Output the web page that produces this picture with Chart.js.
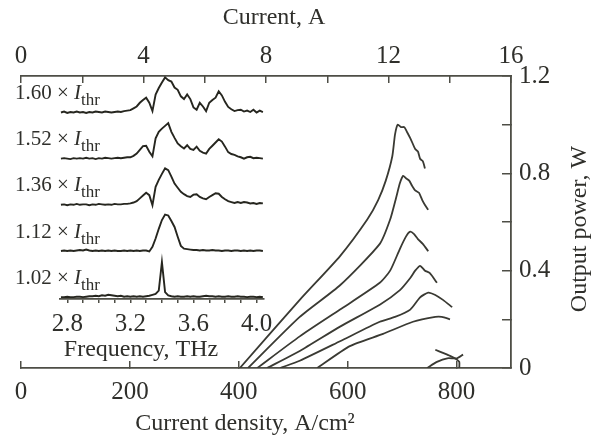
<!DOCTYPE html>
<html>
<head>
<meta charset="utf-8">
<script src="https://cdn.jsdelivr.net/npm/chart.js@4.4.1/dist/chart.umd.min.js"></script>
<style>
  body { margin: 0; background: #fff; }
  #wrap { position: relative; width: 595px; height: 441px; }
  #inset { position: absolute; left: 0; top: 0; }
</style>
</head>
<body>
<div id="wrap">
  <canvas id="main" width="595" height="441"></canvas>
  <canvas id="inset" width="300" height="441"></canvas>
</div>
<script>
// --- LI curves: current density (A/cm2) vs output power (W) ---
const curve1J = [402, 512, 586, 636, 656, 670, 682, 687, 692, 698, 704, 709, 716, 724, 729, 733, 738, 742];
const curve1P = [0, 0.28, 0.46, 0.61, 0.69, 0.77, 0.87, 0.96, 1.00, 0.99, 0.99, 0.97, 0.94, 0.90, 0.89, 0.86, 0.85, 0.82];
const curve2J = [417, 512, 586, 659, 678, 689, 696, 702, 707, 713, 718, 724, 731, 737, 742, 748];
const curve2P = [0, 0.21, 0.34, 0.51, 0.61, 0.70, 0.76, 0.79, 0.78, 0.77, 0.75, 0.73, 0.72, 0.69, 0.67, 0.65];
const curve3J = [434, 512, 586, 659, 678, 696, 707, 715, 722, 729, 738, 748];
const curve3P = [0, 0.13, 0.24, 0.35, 0.40, 0.49, 0.54, 0.56, 0.55, 0.53, 0.51, 0.48];
const curve4J = [452, 512, 586, 659, 696, 715, 724, 733, 742, 751, 764];
const curve4P = [0, 0.07, 0.17, 0.26, 0.32, 0.37, 0.40, 0.42, 0.40, 0.39, 0.35];
const curve5J = [476, 512, 586, 659, 687, 715, 733, 748, 761, 775, 792];
const curve5P = [0, 0.03, 0.11, 0.19, 0.21, 0.24, 0.29, 0.31, 0.30, 0.28, 0.25];
const curve6J = [544, 604, 665, 720, 761, 773, 788];
const curve6P = [0, 0.09, 0.14, 0.19, 0.21, 0.21, 0.20];
// little loop near the axis at ~780 A/cm2
const loopAJ = [746, 764, 783, 801, 812];
const loopAP = [0, 0.025, 0.04, 0.04, 0.055];
const loopBJ = [761, 775, 788, 799, 805, 805];
const loopBP = [0.075, 0.062, 0.05, 0.037, 0.025, 0];

// --- inset spectra (THz, arbitrary units) ---
const freqTHz = [2.76, 2.78, 2.80, 2.82, 2.84, 2.86, 2.88, 2.90, 2.92, 2.94, 2.96, 2.98, 3.00, 3.02, 3.04, 3.06, 3.08, 3.10, 3.12, 3.14, 3.16, 3.18,
  3.20, 3.22, 3.24, 3.26, 3.28, 3.30, 3.32, 3.34, 3.36, 3.38, 3.40, 3.42, 3.44, 3.46, 3.48, 3.50, 3.52, 3.54, 3.56, 3.58, 3.60, 3.62,
  3.64, 3.66, 3.68, 3.70, 3.72, 3.74, 3.76, 3.78, 3.80, 3.82, 3.84, 3.86, 3.88, 3.90, 3.92, 3.94, 3.96, 3.98, 4.00, 4.02, 4.04];
const spec102 = [0.01, 0.01, 0.02, 0.01, 0.01, 0.02, 0.02, 0.01, 0.02, 0.03, 0.03, 0.04, 0.03, 0.05, 0.04, 0.06, 0.05, 0.04, 0.03, 0.04, 0.02, 0.03,
  0.02, 0.03, 0.02, 0.03, 0.02, 0.03, 0.04, 0.06, 0.08, 0.15, 0.77, 0.12, 0.05, 0.03,
  0.02, 0.03, 0.02, 0.02, 0.03, 0.02, 0.03, 0.02, 0.02, 0.03, 0.04, 0.03, 0.03, 0.02, 0.03, 0.02, 0.02, 0.03, 0.02, 0.02, 0.03, 0.02, 0.02, 0.01, 0.02, 0.02, 0.01, 0.02, 0.01];
const spec112 = [0.01, 0.02, 0.01, 0.02, 0.01, 0.02, 0.03, 0.02, 0.04, 0.02, 0.01, 0.02, 0.01, 0.02, 0.01, 0.02, 0.01, 0.02, 0.01, 0.01, 0.02, 0.01, 0.02, 0.01, 0.02, 0.01, 0.02, 0.02,
  0.00, 0.10, 0.28, 0.49, 0.68, 0.80, 0.78, 0.66, 0.53, 0.32, 0.12, 0.06, 0.05, 0.04,
  0.03, 0.03, 0.02, 0.03, 0.02, 0.02, 0.03, 0.02, 0.02, 0.01, 0.02, 0.02, 0.01, 0.02, 0.02, 0.01, 0.02, 0.01, 0.02, 0.01, 0.02, 0.02, 0.01];
const spec136 = [0.01, 0.02, 0.00, 0.02, 0.01, 0.03, 0.01, 0.02, 0.02, 0.00, 0.02, 0.01, 0.03, 0.02, 0.01, 0.02, 0.01, 0.03, 0.02, 0.02, 0.03, 0.03,
  0.04, 0.06, 0.09, 0.15, 0.21, 0.27, 0.22, 0.00, 0.40, 0.55, 0.68, 0.80, 0.76, 0.62, 0.47, 0.38, 0.29, 0.24, 0.20, 0.18, 0.23, 0.24,
  0.18, 0.15, 0.13, 0.18, 0.22, 0.26, 0.25, 0.18, 0.13, 0.09, 0.07, 0.05, 0.07, 0.05, 0.07, 0.06, 0.04, 0.05, 0.03, 0.05, 0.04];
const spec152 = [0.01, 0.02, 0.01, 0.00, 0.02, 0.01, 0.02, 0.01, 0.03, 0.01, 0.02, 0.00, 0.02, 0.01, 0.03, 0.02, 0.01, 0.02, 0.03, 0.02, 0.03, 0.04,
  0.04, 0.07, 0.12, 0.20, 0.28, 0.29, 0.16, 0.06, 0.45, 0.59, 0.66, 0.72, 0.78, 0.59, 0.46, 0.34, 0.28, 0.23, 0.30, 0.22, 0.20, 0.27,
  0.18, 0.14, 0.12, 0.22, 0.29, 0.36, 0.43, 0.38, 0.27, 0.15, 0.11, 0.09, 0.06, 0.04, 0.01, 0.04, 0.05, 0.02, 0.03, 0.02, 0.01];
const spec160 = [0.01, 0.03, 0.00, 0.02, 0.01, 0.03, 0.01, 0.02, 0.00, 0.02, 0.01, 0.03, 0.02, 0.01, 0.03, 0.02, 0.01, 0.02, 0.03, 0.02, 0.04, 0.05,
  0.06, 0.10, 0.14, 0.22, 0.28, 0.33, 0.22, 0.04, 0.40, 0.54, 0.66, 0.77, 0.71, 0.68, 0.55, 0.50, 0.36, 0.30, 0.40, 0.30, 0.12, 0.07,
  0.22, 0.14, 0.04, 0.22, 0.28, 0.33, 0.47, 0.38, 0.24, 0.13, 0.08, 0.04, 0.06, 0.07, 0.03, 0.05, 0.02, 0.07, 0.01, 0.05, 0.02];
const thrFactors = ['1.02', '1.12', '1.36', '1.52', '1.60'];

const TEXT = '#2f2f2b';
const AXIS = '#4e4e46';
const LINE = '#3a3a33';
const SERIF = '"Liberation Serif", "Times New Roman", serif';

const pts = (xs, ys) => xs.map((x, i) => ({ x: x, y: ys[i] }));
const noPad = (h, w) => s => {
  if (h) s.height = h;
  if (w) s.width = w;
  s.paddingLeft = 0; s.paddingRight = 0; s.paddingTop = 0; s.paddingBottom = 0;
};

// titles drawn by hand (right one reads bottom-to-top)
const mainTitles = {
  id: 'mainTitles',
  afterDraw(chart) {
    const { ctx, chartArea: a } = chart;
    const mid = (a.left + a.right) / 2;
    ctx.save();
    ctx.fillStyle = TEXT;
    ctx.font = '24px ' + SERIF;
    ctx.textAlign = 'center';
    ctx.textBaseline = 'middle';
    ctx.fillText('Current, A', mid + 8, a.top - 58);
    ctx.fillText('Current density, A/cm²', mid - 21, a.bottom + 56);
    ctx.translate(a.right + 69, (a.top + a.bottom) / 2 + 7);
    ctx.rotate(-Math.PI / 2);
    ctx.fillText('Output power, W', 0, 0);
    ctx.restore();
  }
};

const lineSets = [
  [curve1J, curve1P], [curve2J, curve2P], [curve3J, curve3P], [curve4J, curve4P],
  [curve5J, curve5P], [curve6J, curve6P], [loopAJ, loopAP], [loopBJ, loopBP]
];

new Chart(document.getElementById('main'), {
  type: 'line',
  data: {
    datasets: lineSets.map(([j, p]) => ({
      data: pts(j, p), borderColor: LINE, borderWidth: 1.8, pointRadius: 0, tension: 0.2, fill: false
    }))
  },
  options: {
    responsive: false, animation: false,
    layout: { padding: { left: 21 } },
    plugins: { legend: { display: false }, tooltip: { enabled: false } },
    scales: {
      x: {
        type: 'linear', position: 'bottom', min: 0, max: 900,
        ticks: { stepSize: 200, includeBounds: false, autoSkip: false, maxRotation: 0, padding: 16, color: TEXT, font: { family: SERIF, size: 25 } },
        grid: { drawOnChartArea: false, tickLength: -7, color: AXIS, lineWidth: 1.5 },
        border: { color: AXIS, width: 1.8 },
        afterFit: noPad(73)
      },
      x2: {
        axis: 'x', type: 'linear', position: 'top', min: 0, max: 16,
        ticks: { stepSize: 2, autoSkip: false, maxRotation: 0, padding: 12, color: TEXT, font: { family: SERIF, size: 25 },
          callback: v => (v % 4 === 0 ? String(v) : '') },
        grid: { drawOnChartArea: false, tickLength: -7, color: AXIS, lineWidth: 1.5 },
        border: { color: AXIS, width: 1.8 },
        afterFit: noPad(76)
      },
      y: {
        type: 'linear', position: 'right', min: 0, max: 1.2,
        ticks: { stepSize: 0.2, autoSkip: false, padding: 17, color: TEXT, font: { family: SERIF, size: 25 },
          callback: v => { const k = Math.round(v * 10); return k % 4 === 0 ? (k === 0 ? '0' : (k / 10).toFixed(1)) : ''; } },
        grid: { drawOnChartArea: false, tickLength: -9, color: AXIS, lineWidth: 1.5 },
        border: { color: AXIS, width: 1.8 },
        afterFit: noPad(0, 84)
      }
    }
  },
  plugins: [mainTitles]
});

// --- inset ---
const insetText = {
  id: 'insetText',
  afterDraw(chart) {
    const { ctx, chartArea: a } = chart;
    const ys = chart.scales.y;
    ctx.save();
    ctx.fillStyle = TEXT;
    ctx.textBaseline = 'alphabetic';
    thrFactors.forEach((f, i) => {
      const base = ys.getPixelForValue(i + 0.3);
      let x = 15;
      ctx.font = '21px ' + SERIF;
      const s = f + ' × ';
      ctx.fillText(s, x, base);
      x += ctx.measureText(s).width;
      ctx.font = 'italic 21px ' + SERIF;
      ctx.fillText('I', x, base);
      x += ctx.measureText('I').width;
      ctx.font = '17px ' + SERIF;
      ctx.fillText('thr', x, base + 6);
    });
    ctx.font = '24px ' + SERIF;
    ctx.textAlign = 'center';
    ctx.textBaseline = 'middle';
    ctx.fillText('Frequency, THz', a.left + 81, a.bottom + 51);
    ctx.restore();
  }
};

const spectra = [spec102, spec112, spec136, spec152, spec160];

new Chart(document.getElementById('inset'), {
  type: 'line',
  data: {
    // each trace is lifted by its row number so they stack like the figure
    datasets: spectra.map((s, i) => ({
      data: freqTHz.map((f, k) => ({ x: f, y: s[k] + i })),
      borderColor: '#26261f', borderWidth: 1.9, pointRadius: 0, tension: 0, fill: false
    }))
  },
  options: {
    responsive: false, animation: false,
    layout: { padding: { left: 60, right: 36, top: 76, bottom: 82 } },
    plugins: { legend: { display: false }, tooltip: { enabled: false } },
    scales: {
      x: {
        type: 'linear', min: 2.754, max: 4.047,
        ticks: { stepSize: 0.1, includeBounds: false, autoSkip: false, maxRotation: 0, padding: 6, color: TEXT, font: { family: SERIF, size: 25 },
          callback: v => (Math.round(v * 10) % 4 === 0 ? v.toFixed(1) : '') },
        grid: { drawOnChartArea: false, tickLength: 4, color: AXIS, lineWidth: 1.5 },
        border: { color: AXIS, width: 1.8 },
        afterFit: noPad(60)
      },
      y: { display: false, min: -0.03, max: 4.8 }
    }
  },
  plugins: [insetText]
});
</script>
</body>
</html>
